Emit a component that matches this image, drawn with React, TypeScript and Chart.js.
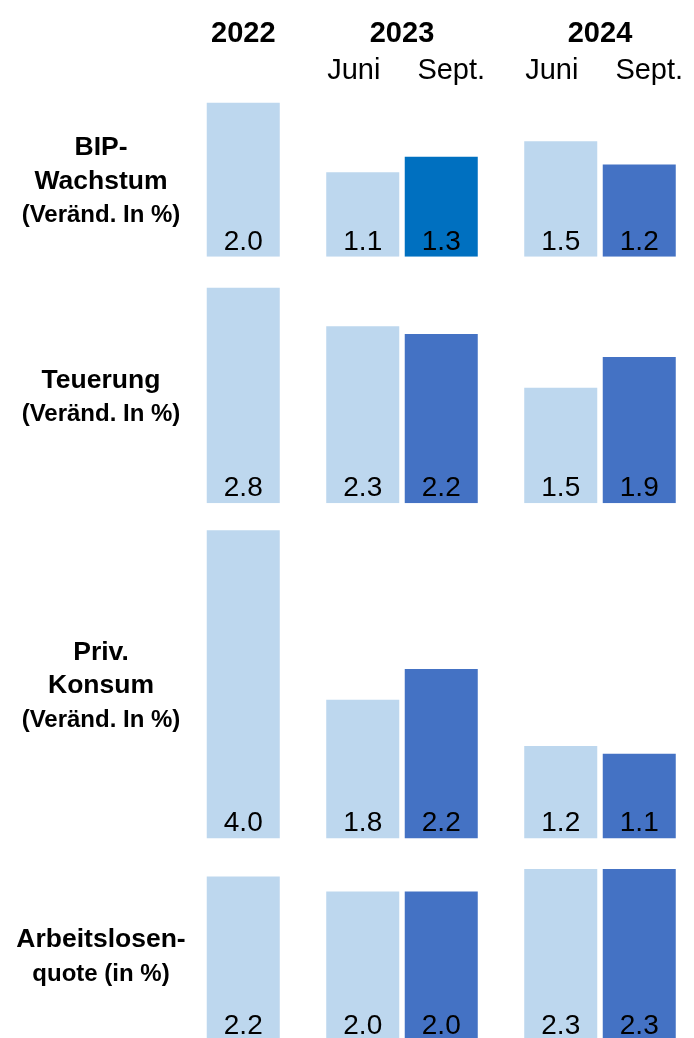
import React, { useEffect, useRef } from "react";
import { Chart, registerables } from "chart.js";

Chart.register(...registerables);

// ---- data ----
const years = ["2022", "2023", "2024"];
const forecastRounds = ["Juni", "Sept."];
const indicatorLabels = [
  ["BIP-", "Wachstum", "(Veränd. In %)"],
  ["Teuerung", "(Veränd. In %)"],
  ["Priv.", "Konsum", "(Veränd. In %)"],
  ["Arbeitslosen-", "quote (in %)"],
];
// June forecast (no June value for 2022) and September forecast / 2022 value
const bipJuni = [null, 1.1, 1.5];
const bipSept = [2.0, 1.3, 1.2];
const teuerungJuni = [null, 2.3, 1.5];
const teuerungSept = [2.8, 2.2, 1.9];
const konsumJuni = [null, 1.8, 1.2];
const konsumSept = [4.0, 2.2, 1.1];
const alqJuni = [null, 2.0, 2.3];
const alqSept = [2.2, 2.0, 2.3];
const rowAxisMax = [2.4, 3.2, 4.35, 2.71];
const rowWeights = [2.4, 3.2, 4.35, 2.63];

const juniRows = [bipJuni, teuerungJuni, konsumJuni, alqJuni];
const septRows = [bipSept, teuerungSept, konsumSept, alqSept];

// ---- style ----
const LIGHT = "#BDD7EE";
const DARK = "#4472C4";
const ACCENT = "#0070C0";
const FONT = '"Liberation Sans", Arial, Helvetica, sans-serif';

const overlayPlugin = {
  id: "overlay",
  afterDatasetsDraw(chart: any) {
    const ctx = chart.ctx as CanvasRenderingContext2D;
    ctx.save();
    ctx.fillStyle = "#000000";

    // value labels inside bars, at the bottom
    ctx.textAlign = "center";
    ctx.textBaseline = "alphabetic";
    ctx.font = `28px ${FONT}`;
    chart.data.datasets.forEach((ds: any, di: number) => {
      const meta = chart.getDatasetMeta(di);
      meta.data.forEach((el: any, i: number) => {
        const v = ds.data[i];
        if (v == null) return;
        ctx.fillText(Number(v).toFixed(1), el.x, el.base - 7);
      });
    });

    // header
    const xs = chart.scales.x;
    const mJ = chart.getDatasetMeta(0);
    const mS = chart.getDatasetMeta(1);
    ctx.font = `bold 29px ${FONT}`;
    years.forEach((y, i) => {
      // the first year has a single bar; centre its label over that bar
      const x = juniRows[0][i] == null ? mS.data[i].x : xs.getPixelForValue(i);
      ctx.fillText(y, x, 42);
    });
    ctx.font = `29px ${FONT}`;
    for (let i = 0; i < years.length; i++) {
      if (juniRows[0][i] == null) continue;
      ctx.fillText(forecastRounds[0], mJ.data[i].x - 9, 79);
      ctx.fillText(forecastRounds[1], mS.data[i].x + 10, 79);
    }

    // row labels
    ctx.textAlign = "center";
    const bigFont = `bold 26.5px ${FONT}`;
    const smallFont = `bold 24px ${FONT}`;
    indicatorLabels.forEach((lines, r) => {
      const ys = chart.scales["r" + r];
      const vals = [...juniRows[r], ...septRows[r]].filter((v) => v != null) as number[];
      const top = ys.getPixelForValue(Math.max(...vals));
      const base = ys.getPixelForValue(0);
      const c = (top + base) / 2;
      const n = lines.length;
      lines.forEach((line, li) => {
        ctx.font = line.includes("(") ? smallFont : bigFont;
        const y = c + (li - (n - 1) / 2) * 33.5 + 9;
        ctx.fillText(line, 101, y);
      });
    });
    ctx.restore();
  },
};

export default function App() {
  const ref = useRef<HTMLCanvasElement | null>(null);
  useEffect(() => {
    if (!ref.current) return;
    const datasets: any[] = [];
    for (let r = 0; r < 4; r++) {
      datasets.push({
        label: `${indicatorLabels[r].join(" ")} Juni`,
        data: juniRows[r],
        yAxisID: "r" + r,
        stack: "juni",
        backgroundColor: LIGHT,
        borderWidth: 0,
      });
      datasets.push({
        label: `${indicatorLabels[r].join(" ")} Sept.`,
        data: septRows[r],
        yAxisID: "r" + r,
        stack: "sept",
        backgroundColor: (c: any) =>
          juniRows[r][c.dataIndex] == null ? LIGHT : r === 0 && c.dataIndex === 1 ? ACCENT : DARK,
        borderWidth: 0,
      });
    }
    const scales: any = {
      x: { type: "category", display: false, offset: true, grid: { display: false } },
    };
    for (let r = 0; r < 4; r++) {
      scales["r" + r] = {
        type: "linear",
        axis: "y",
        position: "right",
        stack: "rows",
        stackWeight: rowWeights[r],
        stacked: false,
        min: 0,
        max: rowAxisMax[r],
        display: false,
        grid: { display: false },
      };
    }
    const chart = new Chart(ref.current, {
      type: "bar",
      data: { labels: years, datasets },
      options: {
        responsive: false,
        animation: false,
        devicePixelRatio: 1,
        categoryPercentage: 0.793,
        barPercentage: 0.93,
        layout: { padding: { left: 105, right: 21, top: 72, bottom: 19 } },
        plugins: { legend: { display: false }, tooltip: { enabled: false } },
        scales,
      } as any,
      plugins: [overlayPlugin],
    });
    return () => chart.destroy();
  }, []);
  return (
    <div
      style={{
        position: "absolute",
        left: 0,
        top: 0,
        width: 694,
        height: 1038,
        overflow: "hidden",
        background: "#ffffff",
      }}
    >
      <canvas ref={ref} width={720} height={1060} style={{ width: 720, height: 1060, display: "block" }} />
    </div>
  );
}
